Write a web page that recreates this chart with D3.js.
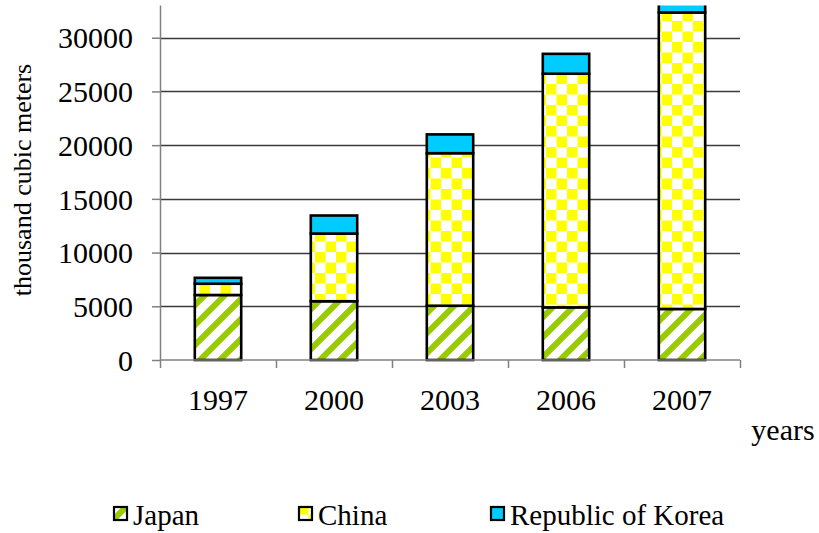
<!DOCTYPE html>
<html>
<head>
<meta charset="utf-8">
<script src="https://cdn.jsdelivr.net/npm/d3@7"></script>
<style>
  html, body { margin: 0; padding: 0; background: #fff; }
  svg { display: block; }
  svg text { font-family: "Times New Roman", "Liberation Serif", "DejaVu Serif", serif !important; fill: #000; }
</style>
</head>
<body>
<svg id="chart" width="819" height="533"></svg>
<script>
// ---- data ----
const years = ["1997", "2000", "2003", "2006", "2007"];
const japan = [6050, 5470, 5050, 4900, 4750];
const china = [1050, 6300, 14200, 21750, 27600];
const korea = [550, 1680, 1750, 1850, 1900];
const seriesNames = ["Japan", "China", "Republic of Korea"];
const yTicks = [0, 5000, 10000, 15000, 20000, 25000, 30000];
const yMax = 33000;
const xTitle = "years";
const yTitle = "thousand cubic meters";

// ---- layout ----
const FONT = "'Times New Roman', 'Liberation Serif', 'DejaVu Serif', serif";
const svg = d3.select("#chart");
const L = 160, R = 740, T = 5.5, B = 360;

const defs = svg.append("defs");
// Japan: green upward diagonal stripes
const pj = defs.append("pattern").attr("id", "pJapan")
  .attr("patternUnits", "userSpaceOnUse").attr("width", 20).attr("height", 20);
pj.append("rect").attr("width", 20).attr("height", 20).attr("fill", "#fff");
pj.append("path").attr("d", "M-5,5 L5,-5 M0,20 L20,0 M15,25 L25,15")
  .attr("stroke", "#99cc00").attr("stroke-width", 6);
// China: yellow checkerboard
const pc = defs.append("pattern").attr("id", "pChina")
  .attr("patternUnits", "userSpaceOnUse").attr("width", 21).attr("height", 21);
pc.append("rect").attr("width", 21).attr("height", 21).attr("fill", "#fff");
pc.append("rect").attr("width", 10.5).attr("height", 10.5).attr("fill", "#ffff00");
pc.append("rect").attr("x", 10.5).attr("y", 10.5).attr("width", 10.5).attr("height", 10.5).attr("fill", "#ffff00");

defs.append("clipPath").attr("id", "plotClip")
  .append("rect").attr("x", L - 5).attr("y", T).attr("width", R - L + 10).attr("height", B - T + 5);

const fills = ["url(#pJapan)", "url(#pChina)", "#00ccff"];

const x = d3.scaleBand().domain(years).range([L, R]).paddingInner(0.6).paddingOuter(0.3);
const xCat = d3.scaleBand().domain(years).range([L, R]).padding(0);
const y = d3.scaleLinear().domain([0, yMax]).range([B, T]);

// gridlines
svg.append("g").selectAll("line").data(yTicks.filter(d => d > 0)).join("line")
  .attr("x1", L).attr("x2", R)
  .attr("y1", d => Math.round(y(d)) + 0.5).attr("y2", d => Math.round(y(d)) + 0.5)
  .attr("stroke", "#3a3a3a").attr("stroke-width", 1.3);

// stacked data
const table = years.map((yr, i) => ({ year: yr, Japan: japan[i], China: china[i], "Republic of Korea": korea[i] }));
const stacked = d3.stack().keys(seriesNames)(table);

const plot = svg.append("g").attr("clip-path", "url(#plotClip)");
stacked.forEach((layer, si) => {
  plot.append("g").selectAll("rect").data(layer).join("rect")
    .attr("x", d => x(d.data.year))
    .attr("width", x.bandwidth())
    .attr("y", d => y(d[1]))
    .attr("height", d => y(d[0]) - y(d[1]))
    .attr("fill", fills[si])
    .attr("stroke", "#000")
    .attr("stroke-width", 2.6);
});

// y axis
const yAxis = svg.append("g").attr("transform", `translate(${L},0)`)
  .call(d3.axisLeft(y).tickValues(yTicks).tickSize(8).tickPadding(19).tickFormat(d3.format("d")));
yAxis.attr("font-family", FONT).attr("font-size", 30);
yAxis.select(".domain").attr("d", `M0.5,${T}V${B}`).attr("stroke", "#808080").attr("stroke-width", 1.5);
yAxis.selectAll(".tick line").attr("stroke", "#808080").attr("stroke-width", 1.5);
yAxis.selectAll(".tick text").attr("font-size", 30).attr("font-family", FONT).attr("fill", "#000").attr("dy", "0.34em");

// x axis
const xAxisG = svg.append("g").attr("font-family", FONT);
xAxisG.append("line").attr("x1", L).attr("x2", R).attr("y1", B).attr("y2", B)
  .attr("stroke", "#808080").attr("stroke-width", 1.5);
const tickPos = years.map(d => xCat(d)).concat([R]);
xAxisG.selectAll("line.tk").data(tickPos).join("line").attr("class", "tk")
  .attr("x1", d => d + 0.5).attr("x2", d => d + 0.5).attr("y1", B).attr("y2", B + 8)
  .attr("stroke", "#808080").attr("stroke-width", 1.5);
xAxisG.selectAll("text").data(years).join("text")
  .attr("x", d => xCat(d) + xCat.bandwidth() / 2)
  .attr("y", 410)
  .attr("text-anchor", "middle")
  .attr("font-family", FONT)
  .attr("font-size", 30)
  .text(d => d);

// axis titles
svg.append("text").attr("x", 783).attr("y", 440).attr("text-anchor", "middle")
  .attr("font-family", FONT).attr("font-size", 30).text(xTitle);
svg.append("text").attr("transform", "translate(31,180) rotate(-90)")
  .attr("text-anchor", "middle").attr("font-family", FONT).attr("font-size", 26).text(yTitle);

// legend
const legendX = [113, 298, 490];
const lg = svg.append("g").selectAll("g").data(seriesNames).join("g")
  .attr("transform", (d, i) => `translate(${legendX[i]},0)`);
lg.append("rect").attr("x", 1).attr("y", 507).attr("width", 13).attr("height", 13)
  .attr("fill", (d, i) => fills[i]).attr("stroke", "#000").attr("stroke-width", 2.2);
lg.append("text").attr("x", 20).attr("y", 525).attr("font-family", FONT).attr("font-size", 29).text(d => d);
</script>
</body>
</html>
